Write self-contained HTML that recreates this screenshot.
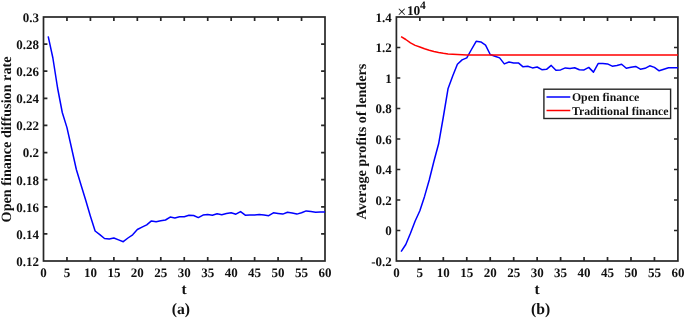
<!DOCTYPE html>
<html><head><meta charset="utf-8"><title>Figure</title>
<style>
html,body{margin:0;padding:0;background:#fff;}
svg{display:block;}
text{font-family:"Liberation Serif","Times New Roman",serif;font-weight:bold;fill:#111;text-rendering:geometricPrecision;}
.tk{font-size:13px;}
.lb{font-size:14.2px;}
.lg{font-size:11.82px;}
.cp{font-size:15.7px;}
.xl{font-size:15.3px;}
</style></head><body>
<svg width="685" height="318" viewBox="0 0 685 318">
<rect width="685" height="318" fill="#ffffff"/>

<g>
<text class="tk" x="43.50" y="277" text-anchor="middle">0</text>
<path d="M66.96,261.0 v-3.9 M66.96,17.0 v3.9" stroke="#262626" stroke-width="1.7" fill="none"/>
<text class="tk" x="66.96" y="277" text-anchor="middle">5</text>
<path d="M90.42,261.0 v-3.9 M90.42,17.0 v3.9" stroke="#262626" stroke-width="1.7" fill="none"/>
<text class="tk" x="90.42" y="277" text-anchor="middle">10</text>
<path d="M113.88,261.0 v-3.9 M113.88,17.0 v3.9" stroke="#262626" stroke-width="1.7" fill="none"/>
<text class="tk" x="113.88" y="277" text-anchor="middle">15</text>
<path d="M137.33,261.0 v-3.9 M137.33,17.0 v3.9" stroke="#262626" stroke-width="1.7" fill="none"/>
<text class="tk" x="137.33" y="277" text-anchor="middle">20</text>
<path d="M160.79,261.0 v-3.9 M160.79,17.0 v3.9" stroke="#262626" stroke-width="1.7" fill="none"/>
<text class="tk" x="160.79" y="277" text-anchor="middle">25</text>
<path d="M184.25,261.0 v-3.9 M184.25,17.0 v3.9" stroke="#262626" stroke-width="1.7" fill="none"/>
<text class="tk" x="184.25" y="277" text-anchor="middle">30</text>
<path d="M207.71,261.0 v-3.9 M207.71,17.0 v3.9" stroke="#262626" stroke-width="1.7" fill="none"/>
<text class="tk" x="207.71" y="277" text-anchor="middle">35</text>
<path d="M231.17,261.0 v-3.9 M231.17,17.0 v3.9" stroke="#262626" stroke-width="1.7" fill="none"/>
<text class="tk" x="231.17" y="277" text-anchor="middle">40</text>
<path d="M254.62,261.0 v-3.9 M254.62,17.0 v3.9" stroke="#262626" stroke-width="1.7" fill="none"/>
<text class="tk" x="254.62" y="277" text-anchor="middle">45</text>
<path d="M278.08,261.0 v-3.9 M278.08,17.0 v3.9" stroke="#262626" stroke-width="1.7" fill="none"/>
<text class="tk" x="278.08" y="277" text-anchor="middle">50</text>
<path d="M301.54,261.0 v-3.9 M301.54,17.0 v3.9" stroke="#262626" stroke-width="1.7" fill="none"/>
<text class="tk" x="301.54" y="277" text-anchor="middle">55</text>
<text class="tk" x="325.00" y="277" text-anchor="middle">60</text>
<text class="tk" x="38.90" y="21.90" text-anchor="end">0.3</text>
<path d="M43.5,44.11 h3.9 M325.0,44.11 h-3.9" stroke="#262626" stroke-width="1.7" fill="none"/>
<text class="tk" x="38.90" y="49.01" text-anchor="end">0.28</text>
<path d="M43.5,71.22 h3.9 M325.0,71.22 h-3.9" stroke="#262626" stroke-width="1.7" fill="none"/>
<text class="tk" x="38.90" y="76.12" text-anchor="end">0.26</text>
<path d="M43.5,98.33 h3.9 M325.0,98.33 h-3.9" stroke="#262626" stroke-width="1.7" fill="none"/>
<text class="tk" x="38.90" y="103.23" text-anchor="end">0.24</text>
<path d="M43.5,125.44 h3.9 M325.0,125.44 h-3.9" stroke="#262626" stroke-width="1.7" fill="none"/>
<text class="tk" x="38.90" y="130.34" text-anchor="end">0.22</text>
<path d="M43.5,152.56 h3.9 M325.0,152.56 h-3.9" stroke="#262626" stroke-width="1.7" fill="none"/>
<text class="tk" x="38.90" y="157.46" text-anchor="end">0.2</text>
<path d="M43.5,179.67 h3.9 M325.0,179.67 h-3.9" stroke="#262626" stroke-width="1.7" fill="none"/>
<text class="tk" x="38.90" y="184.57" text-anchor="end">0.18</text>
<path d="M43.5,206.78 h3.9 M325.0,206.78 h-3.9" stroke="#262626" stroke-width="1.7" fill="none"/>
<text class="tk" x="38.90" y="211.68" text-anchor="end">0.16</text>
<path d="M43.5,233.89 h3.9 M325.0,233.89 h-3.9" stroke="#262626" stroke-width="1.7" fill="none"/>
<text class="tk" x="38.90" y="238.79" text-anchor="end">0.14</text>
<text class="tk" x="38.90" y="265.90" text-anchor="end">0.12</text>
<rect x="43.5" y="17.0" width="281.5" height="244.0" fill="none" stroke="#262626" stroke-width="1.7"/>
<polyline points="48.19,36.40 52.88,58.00 57.58,88.00 62.27,112.50 66.96,127.60 71.65,148.50 76.34,169.50 81.03,185.00 85.72,200.30 90.42,216.20 95.11,231.00 99.80,234.60 104.49,238.50 109.18,239.10 113.88,238.00 118.57,239.90 123.26,241.70 127.95,238.00 132.64,234.80 137.33,229.50 142.02,227.20 146.72,224.80 151.41,220.90 156.10,221.70 160.79,220.70 165.48,220.00 170.18,217.10 174.87,217.90 179.56,216.70 184.25,216.70 188.94,215.30 193.63,215.50 198.32,217.60 203.02,215.10 207.71,214.50 212.40,215.30 217.09,213.80 221.78,214.70 226.47,213.50 231.17,212.80 235.86,214.20 240.55,211.60 245.24,215.20 249.93,215.10 254.62,215.10 259.32,214.50 264.01,215.10 268.70,215.70 273.39,212.80 278.08,213.50 282.77,214.10 287.47,212.30 292.16,213.00 296.85,214.10 301.54,212.80 306.23,210.90 310.93,211.60 315.62,212.20 320.31,212.10 325.00,212.10" fill="none" stroke="#0000ff" stroke-width="1.5" stroke-linejoin="round" stroke-linecap="butt"/>
<text class="xl" x="184.05" y="294" text-anchor="middle">t</text>
<text class="cp" x="180.9" y="314" text-anchor="middle">(a)</text>
<text class="lb" transform="translate(11,139.45) rotate(-90)" text-anchor="middle">Open finance diffusion rate</text>
</g>
<g>
<text class="tk" x="396.40" y="277" text-anchor="middle">0</text>
<path d="M419.86,261.0 v-3.9 M419.86,17.0 v3.9" stroke="#262626" stroke-width="1.7" fill="none"/>
<text class="tk" x="419.86" y="277" text-anchor="middle">5</text>
<path d="M443.32,261.0 v-3.9 M443.32,17.0 v3.9" stroke="#262626" stroke-width="1.7" fill="none"/>
<text class="tk" x="443.32" y="277" text-anchor="middle">10</text>
<path d="M466.77,261.0 v-3.9 M466.77,17.0 v3.9" stroke="#262626" stroke-width="1.7" fill="none"/>
<text class="tk" x="466.77" y="277" text-anchor="middle">15</text>
<path d="M490.23,261.0 v-3.9 M490.23,17.0 v3.9" stroke="#262626" stroke-width="1.7" fill="none"/>
<text class="tk" x="490.23" y="277" text-anchor="middle">20</text>
<path d="M513.69,261.0 v-3.9 M513.69,17.0 v3.9" stroke="#262626" stroke-width="1.7" fill="none"/>
<text class="tk" x="513.69" y="277" text-anchor="middle">25</text>
<path d="M537.15,261.0 v-3.9 M537.15,17.0 v3.9" stroke="#262626" stroke-width="1.7" fill="none"/>
<text class="tk" x="537.15" y="277" text-anchor="middle">30</text>
<path d="M560.61,261.0 v-3.9 M560.61,17.0 v3.9" stroke="#262626" stroke-width="1.7" fill="none"/>
<text class="tk" x="560.61" y="277" text-anchor="middle">35</text>
<path d="M584.07,261.0 v-3.9 M584.07,17.0 v3.9" stroke="#262626" stroke-width="1.7" fill="none"/>
<text class="tk" x="584.07" y="277" text-anchor="middle">40</text>
<path d="M607.52,261.0 v-3.9 M607.52,17.0 v3.9" stroke="#262626" stroke-width="1.7" fill="none"/>
<text class="tk" x="607.52" y="277" text-anchor="middle">45</text>
<path d="M630.98,261.0 v-3.9 M630.98,17.0 v3.9" stroke="#262626" stroke-width="1.7" fill="none"/>
<text class="tk" x="630.98" y="277" text-anchor="middle">50</text>
<path d="M654.44,261.0 v-3.9 M654.44,17.0 v3.9" stroke="#262626" stroke-width="1.7" fill="none"/>
<text class="tk" x="654.44" y="277" text-anchor="middle">55</text>
<text class="tk" x="677.90" y="277" text-anchor="middle">60</text>
<text class="tk" x="391.80" y="21.90" text-anchor="end">1.4</text>
<path d="M396.4,47.50 h3.9 M677.9,47.50 h-3.9" stroke="#262626" stroke-width="1.7" fill="none"/>
<text class="tk" x="391.80" y="52.40" text-anchor="end">1.2</text>
<path d="M396.4,78.00 h3.9 M677.9,78.00 h-3.9" stroke="#262626" stroke-width="1.7" fill="none"/>
<text class="tk" x="391.80" y="82.90" text-anchor="end">1</text>
<path d="M396.4,108.50 h3.9 M677.9,108.50 h-3.9" stroke="#262626" stroke-width="1.7" fill="none"/>
<text class="tk" x="391.80" y="113.40" text-anchor="end">0.8</text>
<path d="M396.4,139.00 h3.9 M677.9,139.00 h-3.9" stroke="#262626" stroke-width="1.7" fill="none"/>
<text class="tk" x="391.80" y="143.90" text-anchor="end">0.6</text>
<path d="M396.4,169.50 h3.9 M677.9,169.50 h-3.9" stroke="#262626" stroke-width="1.7" fill="none"/>
<text class="tk" x="391.80" y="174.40" text-anchor="end">0.4</text>
<path d="M396.4,200.00 h3.9 M677.9,200.00 h-3.9" stroke="#262626" stroke-width="1.7" fill="none"/>
<text class="tk" x="391.80" y="204.90" text-anchor="end">0.2</text>
<path d="M396.4,230.50 h3.9 M677.9,230.50 h-3.9" stroke="#262626" stroke-width="1.7" fill="none"/>
<text class="tk" x="391.80" y="235.40" text-anchor="end">0</text>
<text class="tk" x="391.80" y="265.90" text-anchor="end">-0.2</text>
<rect x="396.4" y="17.0" width="281.5" height="244.0" fill="none" stroke="#262626" stroke-width="1.7"/>
<polyline points="401.09,251.70 405.78,244.50 410.47,233.20 415.17,221.00 419.86,210.80 424.55,196.40 429.24,180.00 433.93,161.20 438.62,143.80 443.32,117.00 448.01,88.80 452.70,76.00 457.39,64.30 462.08,59.90 466.77,57.90 471.47,49.50 476.16,41.30 480.85,41.95 485.54,45.10 490.23,54.50 494.92,56.20 499.62,57.90 504.31,63.90 509.00,62.00 513.69,62.90 518.38,62.90 523.07,66.80 527.77,66.20 532.46,67.90 537.15,67.00 541.84,69.70 546.53,69.30 551.22,65.40 555.92,70.20 560.61,69.90 565.30,67.90 569.99,68.40 574.68,67.80 579.38,69.80 584.07,69.90 588.76,67.40 593.45,72.10 598.14,63.60 602.83,63.60 607.52,63.90 612.22,66.20 616.91,65.50 621.60,64.30 626.29,68.30 630.98,67.30 635.67,66.40 640.37,69.20 645.06,68.30 649.75,65.80 654.44,67.40 659.13,70.80 663.83,69.20 668.52,67.80 673.21,67.80 677.90,67.80" fill="none" stroke="#0000ff" stroke-width="1.5" stroke-linejoin="round"/>
<polyline points="401.09,36.60 405.78,39.50 410.47,42.90 415.17,45.40 419.86,47.00 424.55,48.70 429.24,50.20 433.93,51.40 438.62,52.45 443.32,53.30 448.01,54.00 452.70,54.30 457.39,54.60 462.08,54.80 466.77,54.90 471.47,54.90 476.16,54.90 480.85,54.90 485.54,54.90 490.23,54.90 494.92,54.90 499.62,54.90 504.31,54.90 509.00,54.90 513.69,54.90 518.38,54.90 523.07,54.90 527.77,54.90 532.46,54.90 537.15,54.90 541.84,54.90 546.53,54.90 551.22,54.90 555.92,54.90 560.61,54.90 565.30,54.90 569.99,54.90 574.68,54.90 579.38,54.90 584.07,54.90 588.76,54.90 593.45,54.90 598.14,54.90 602.83,54.90 607.52,54.90 612.22,54.90 616.91,54.90 621.60,54.90 626.29,54.90 630.98,54.90 635.67,54.90 640.37,54.90 645.06,54.90 649.75,54.90 654.44,54.90 659.13,54.90 663.83,54.90 668.52,54.90 673.21,54.90 677.90,54.90" fill="none" stroke="#ff0000" stroke-width="1.5" stroke-linejoin="round"/>
<text class="xl" x="536.95" y="294" text-anchor="middle">t</text>
<text class="cp" x="540.6" y="314" text-anchor="middle">(b)</text>
<text class="lb" transform="translate(366,141.6) rotate(-90)" text-anchor="middle">Average profits of lenders</text>
<text x="397.3" y="17.3" style="font-size:16px;font-weight:normal">×</text>
<text x="406.9" y="14.8" style="font-size:13.4px">10</text>
<text x="419.95" y="8.6" style="font-size:11.5px">4</text>
<rect x="543.9" y="89.2" width="126.7" height="29.3" fill="#fff" stroke="#262626" stroke-width="1.4"/>
<path d="M546.5,97.0 H570.3" stroke="#0000ff" stroke-width="1.5"/>
<path d="M546.5,110.5 H570.3" stroke="#ff0000" stroke-width="1.5"/>
<text class="lg" x="571.9" y="100.7">Open finance</text>
<text class="lg" x="571.9" y="114.8">Traditional finance</text>
</g>
</svg>
</body></html>
